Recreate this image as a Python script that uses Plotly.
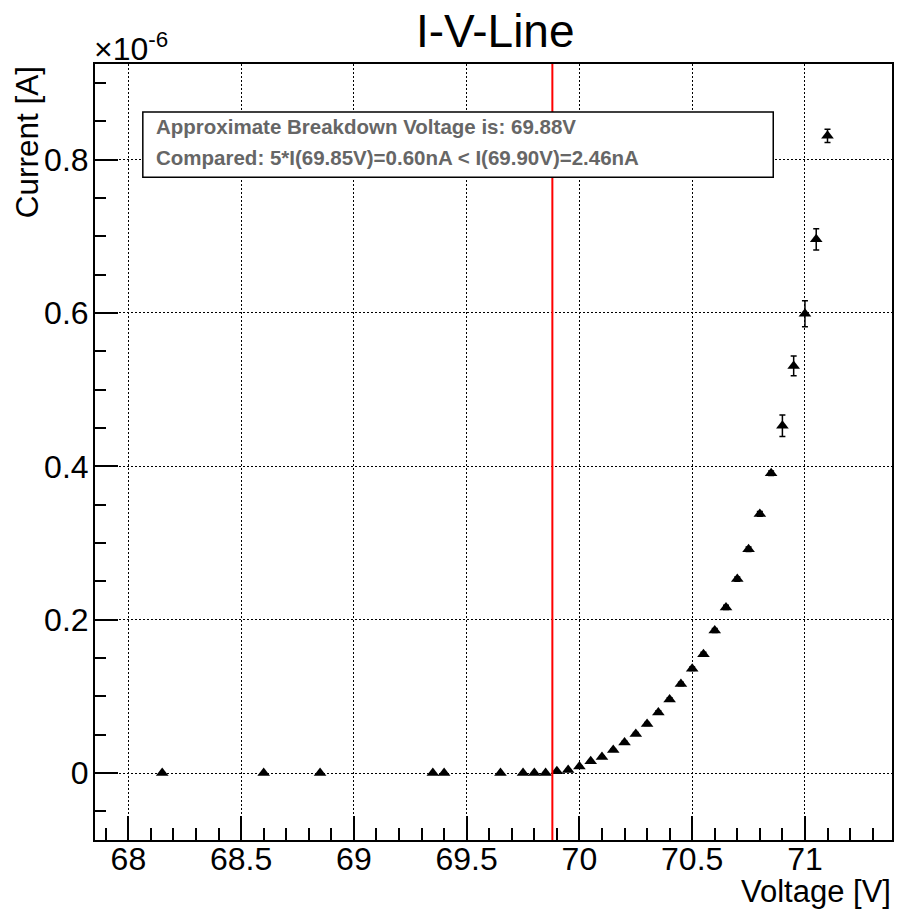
import numpy as np
import plotly.graph_objects as go

# ---- data ----
voltage_V = [68.15, 68.60, 68.85, 69.35, 69.40, 69.65, 69.75, 69.80, 69.85,
             69.90, 69.95, 70.00, 70.05, 70.10, 70.15, 70.20, 70.25, 70.30,
             70.35, 70.40, 70.45, 70.50, 70.55, 70.60, 70.65, 70.70, 70.75,
             70.80, 70.85, 70.90, 70.95, 71.00, 71.05, 71.10]
current_nA = [0.05, 0.06, 0.07, 0.09, 0.10, 0.11, 0.11, 0.12, 0.12,
              2.46, 4.0, 8.5, 15.5, 21.0, 30.0, 40.0, 51.0, 64.0,
              79.0, 96.0, 116.0, 136.0, 155.0, 186.0, 216.0, 253.0, 292.0,
              338.0, 391.0, 453.0, 531.0, 599.0, 696.0, 831.0]
current_err_nA = [0.3, 0.3, 0.3, 0.3, 0.3, 0.3, 0.3, 0.3, 0.3,
                  0.5, 0.6, 0.8, 1.0, 1.2, 1.4, 1.6, 1.8, 2.0,
                  2.1, 2.2, 2.3, 2.4, 2.5, 2.6, 2.7, 2.8, 2.9,
                  3.0, 3.0, 14.0, 13.0, 17.0, 14.0, 8.7]
breakdown_V = 69.88
info_lines = ["Approximate Breakdown Voltage is: 69.88V",
              "Compared: 5*I(69.85V)=0.60nA < I(69.90V)=2.46nA"]

# plot in units of 1e-6 A
y_uA = np.array(current_nA) * 1e-3
yerr_uA = np.array(current_err_nA) * 1e-3

FONT = "Liberation Sans, Arial, Helvetica, sans-serif"

fig = go.Figure()
fig.add_trace(go.Scatter(
    x=voltage_V, y=y_uA, mode="markers",
    marker=dict(symbol="triangle-up", size=11, color="black"),
    error_y=dict(type="data", array=yerr_uA, color="black", thickness=1.5, width=3),
    showlegend=False,
))

# red breakdown line
fig.add_shape(type="line", xref="x", yref="paper", x0=breakdown_V, x1=breakdown_V,
              y0=0, y1=1, line=dict(color="red", width=2), layer="above")
# info box
fig.add_shape(type="rect", xref="paper", yref="paper",
              x0=0.060, x1=0.851, y0=0.854, y1=0.938,
              line=dict(color="black", width=1.5), fillcolor="white", layer="above")
for i, t in enumerate(info_lines):
    fig.add_annotation(text="<b>" + t + "</b>", xref="paper", yref="paper",
                       x=0.074, y=0.938, xanchor="left", yanchor="top",
                       yshift=-1 - 31 * i, showarrow=False,
                       font=dict(family=FONT, size=20.5, color="#666666"))

# title
fig.add_annotation(text="I-V-Line", xref="paper", yref="paper", x=0.503, y=1,
                   xanchor="center", yanchor="bottom", yshift=5, showarrow=False,
                   font=dict(family=FONT, size=46, color="black"))
# exponent
fig.add_annotation(text="×10<sup>-6</sup>", xref="paper", yref="paper", x=0, y=1,
                   xanchor="left", yanchor="bottom", yshift=-5, xshift=-3, showarrow=False,
                   font=dict(family=FONT, size=32, color="black"))
# axis titles
fig.add_annotation(text="Voltage [V]", xref="paper", yref="paper", x=1, y=0,
                   xanchor="right", yanchor="top", yshift=-32, xshift=1, showarrow=False,
                   font=dict(family=FONT, size=31, color="black"))
fig.add_annotation(text="Current [A]", xref="paper", yref="paper", x=-0.085, y=1,
                   xanchor="center", yanchor="top", textangle=-90, showarrow=False,
                   font=dict(family=FONT, size=31.5, color="black"))

axis_common = dict(
    showline=True, mirror=True, linecolor="black", linewidth=2,
    ticks="inside", tickcolor="black", tickwidth=1.5,
    showgrid=True, gridcolor="black", gridwidth=1, griddash="2px,2px",
    zeroline=False, tickfont=dict(family=FONT, size=32, color="black"),
)
fig.update_xaxes(range=[67.852, 71.386], tick0=68, dtick=0.5, ticklen=24,
                 ticklabelstandoff=-10,
                 minor=dict(dtick=0.1, ticklen=12, ticks="inside", tickcolor="black",
                            tickwidth=1.5, showgrid=False),
                 **axis_common)
fig.update_yaxes(range=[-0.0873, 0.9247], tick0=0, dtick=0.2, ticklen=23,
                 ticklabelstandoff=-2,
                 minor=dict(dtick=0.05, ticklen=11, ticks="inside", tickcolor="black",
                            tickwidth=1.5, showgrid=False),
                 **axis_common)

fig.update_layout(
    width=897, height=909,
    margin=dict(l=95, r=3, t=64, b=69),
    plot_bgcolor="white", paper_bgcolor="white",
    font=dict(family=FONT),
)

fig.write_html("out.html")
